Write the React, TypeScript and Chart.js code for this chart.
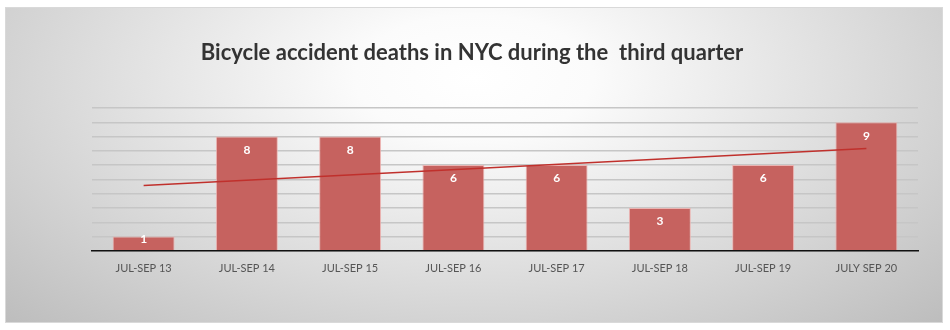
import React, { useEffect, useRef } from "react";
import { Chart, registerables } from "chart.js";

Chart.register(...registerables);

const TITLE = "Bicycle accident deaths in NYC during the  third quarter";
const CATEGORIES = [
  "JUL-SEP 13",
  "JUL-SEP 14",
  "JUL-SEP 15",
  "JUL-SEP 16",
  "JUL-SEP 17",
  "JUL-SEP 18",
  "JUL-SEP 19",
  "JULY SEP 20",
];
const DEATHS = [1, 8, 8, 6, 6, 3, 6, 9];
// trendline end points
const TREND = [4.58, null, null, null, null, null, null, 7.17];
const Y_MAX = 10;

const labelPlugin = {
  id: "barLabels",
  afterDatasetsDraw(chart: any) {
    const meta = chart.getDatasetMeta(0);
    const ctx = chart.ctx;
    ctx.save();
    ctx.fillStyle = "#ffffff";
    ctx.font = "bold 12px Lato, 'Open Sans', sans-serif";
    ctx.textAlign = "center";
    ctx.textBaseline = "middle";
    meta.data.forEach((bar: any, i: number) => {
      const y = Math.min(bar.y + 13.5, bar.base - 11);
      ctx.fillText(String(DEATHS[i]), bar.x, y);
    });
    ctx.restore();
  },
};

const titlePlugin = {
  id: "centerTitle",
  afterDraw(chart: any) {
    const ctx = chart.ctx;
    ctx.save();
    ctx.fillStyle = "#333333";
    ctx.font = "bold 22px Lato, 'Open Sans', sans-serif";
    ctx.textAlign = "center";
    ctx.textBaseline = "middle";
    ctx.fillText(TITLE, 472, 53);
    ctx.restore();
  },
};

export default function App() {
  const ref = useRef<HTMLCanvasElement>(null);
  useEffect(() => {
    document.body.style.margin = "0";
    const chart = new Chart(ref.current as HTMLCanvasElement, {
      type: "bar",
      data: {
        labels: CATEGORIES,
        datasets: [
          {
            type: "bar",
            data: DEATHS,
            backgroundColor: "#c6625f",
            borderColor: "rgba(236,176,174,0.9)",
            borderWidth: 1,
            categoryPercentage: 1,
            barPercentage: 0.6,
            order: 2,
          },
          {
            type: "line",
            data: TREND as any,
            spanGaps: true,
            borderColor: "#c0302c",
            borderWidth: 1.5,
            pointRadius: 0,
            fill: false,
            order: 1,
          } as any,
        ],
      },
      options: {
        animation: false,
        responsive: false,
        layout: { padding: { left: 92, right: 32, top: 108, bottom: 44 } },
        plugins: {
          legend: { display: false },
          tooltip: { enabled: false },
          title: { display: false },
        },
        scales: {
          x: {
            grid: { display: false, drawTicks: false },
            border: { display: true, color: "#111111", width: 1.5 },
            ticks: {
              color: "#555555",
              font: { family: "Lato, 'Open Sans', sans-serif", size: 11 },
              padding: 11,
              maxRotation: 0,
            },
          },
          y: {
            min: 0,
            max: Y_MAX,
            ticks: { display: false, stepSize: 1 },
            border: { display: false },
            grid: {
              color: "#c6c6c6",
              lineWidth: 1.4,
              drawTicks: false,
            },
          },
        },
      },
      plugins: [labelPlugin, titlePlugin],
    });
    return () => chart.destroy();
  }, []);

  return (
    <div style={{ position: "relative", width: 950, height: 330, background: "#ffffff" }}>
      <div
        style={{
          position: "absolute",
          left: 5,
          top: 7,
          width: 936,
          height: 314,
          border: "1px solid #d9d9d9",
          background:
            "radial-gradient(ellipse farthest-corner at 50% 22%, #ffffff 0%, #fbfbfb 18%, #bdbdbd 100%)",
        }}
      />
      <canvas
        ref={ref}
        width={950}
        height={330}
        style={{ position: "absolute", left: 0, top: 0, width: 950, height: 330 }}
      />
    </div>
  );
}
